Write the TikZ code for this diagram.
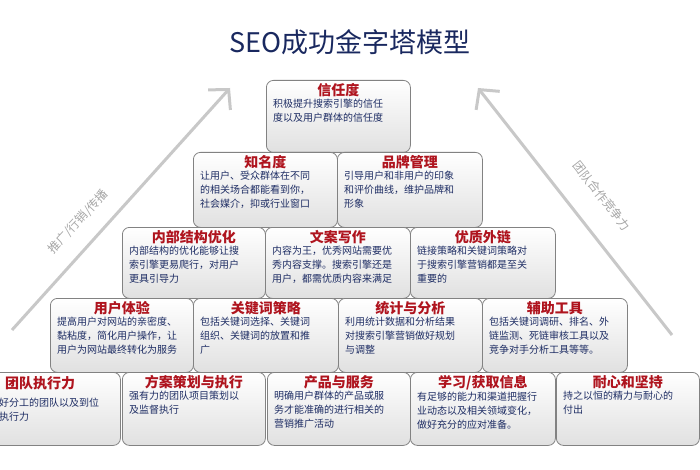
\documentclass[tikz,border=0pt]{standalone}
\usepackage{fontspec}
\newfontfamily\cjk{Noto Sans CJK SC}
\usetikzlibrary{positioning,arrows.meta}
\definecolor{headColor}{RGB}{175,20,30}
\definecolor{bodyColor}{RGB}{30,45,100}
\definecolor{titleColor}{RGB}{25,40,95}
\definecolor{frameColor}{RGB}{130,130,130}
\definecolor{arrowColor}{RGB}{200,200,200}

\newcommand{\pyrbox}[7]{%
  \node [brick, minimum width=#4, minimum height=#5] (#1) at (#2,#3) {};
  \node [head, below=2pt of #1.north] (#1-t) {#6};
  \node [body, anchor=north west] (#1-b) at ([xshift=6pt]#1.west |- #1-t.south) {#7};
}

\begin{document}
\begin{tikzpicture}[x=1pt,y=-1pt,font=\cjk]
  \tikzstyle{brick} = [draw=frameColor,line width=.8pt,rounded corners=7pt,top color=white,bottom color=black!12,anchor=north west,inner sep=0pt]
  \tikzstyle{head} = [headColor,font=\cjk\fontsize{14}{16}\selectfont\bfseries,inner sep=1pt]
  \tikzstyle{body} = [bodyColor,font=\cjk\fontsize{10}{14}\selectfont,align=left,inner sep=1pt]
  \useasboundingbox (0,0) rectangle (700,470);
  \clip (0,0) rectangle (700,470);

  % side arrows
  \coordinate (la) at (12,330);
  \coordinate (lb) at (230,88);
  \coordinate (ra) at (672,335);
  \coordinate (rb) at (478,88);
  \draw [arrowColor,line width=3pt,-{Straight Barb[length=14pt,width=30pt]}] (la) -- (lb);
  \draw [arrowColor,line width=3pt,-{Straight Barb[length=14pt,width=30pt]}] (ra) -- (rb);
  \node [black!35,rotate=47,font=\cjk\fontsize{12}{14}\selectfont] (lt) at (78,222) {推广/行销/传播};
  \node [black!35,rotate=-52,font=\cjk\fontsize{12}{14}\selectfont] (rt) at (602,196) {团队合作竞争力};

  \node [titleColor,font=\cjk\fontsize{27}{30}\selectfont] (title) at (350,42) {SEO成功金字塔模型};

  % top
  \pyrbox{trust}{266}{80}{144}{72}{信任度}{积极提升搜索引擎的信任\\度以及用户群体的信任度}
  % row 2
  \pyrbox{fame}{193}{152}{144}{75}{知名度}{让用户、受众群体在不同\\的相关场合都能看到你，\\社会媒介，抑或行业窗口}
  \pyrbox{brand}{337}{152}{145}{75}{品牌管理}{引导用户和非用户的印象\\和评价曲线，维护品牌和\\形象}
  % row 3
  \pyrbox{struct}{122}{227}{143}{71}{内部结构优化}{内部结构的优化能够让搜\\索引擎更易爬行，对用户\\更具引导力}
  \pyrbox{copy}{265}{227}{145}{71}{文案写作}{内容为王，优秀网站需要优\\秀内容支撑。搜索引擎还是\\用户，都需优质内容来满足}
  \pyrbox{links}{410}{227}{145}{71}{优质外链}{链接策略和关键词策略对\\于搜索引擎营销都是至关\\重要的}
  % row 4
  \pyrbox{ux}{50}{298}{143}{74}{用户体验}{提高用户对网站的亲密度、\\黏粘度，简化用户操作，让\\用户为网站最终转化为服务}
  \pyrbox{kw}{193}{298}{145}{74}{关键词策略}{包括关键词选择、关键词\\组织、关键词的放置和推\\广}
  \pyrbox{stat}{338}{298}{144}{74}{统计与分析}{利用统计数据和分析结果\\对搜索引擎营销做好规划\\与调整}
  \pyrbox{tools}{482}{298}{145}{74}{辅助工具}{包括关键词调研、排名、外\\链监测、死链审核工具以及\\竞争对手分析工具等等。}
  % row 5
  \node [brick, minimum width=145, minimum height=73] (team) at (-25,372) {};
  \node [head, anchor=north west] (team-t) at (4,375) {团队执行力};
  \node [body, anchor=north west] (team-b) at (-2,397) {好分工的团队以及到位\\执行力};
  \pyrbox{plan}{122}{372}{143}{73}{方案策划与执行}{强有力的团队项目策划以\\及监督执行}
  \pyrbox{prod}{267}{372}{143}{73}{产品与服务}{明确用户群体的产品或服\\务才能准确的进行相关的\\营销推广活动}
  \pyrbox{learn}{410}{372}{145}{73}{学习/获取信息}{有足够的能力和渠道把握行\\业动态以及相关领域变化，\\做好充分的应对准备。}
  \pyrbox{patience}{556}{372}{143}{73}{耐心和坚持}{持之以恒的精力与耐心的\\付出}
\end{tikzpicture}
\end{document}
